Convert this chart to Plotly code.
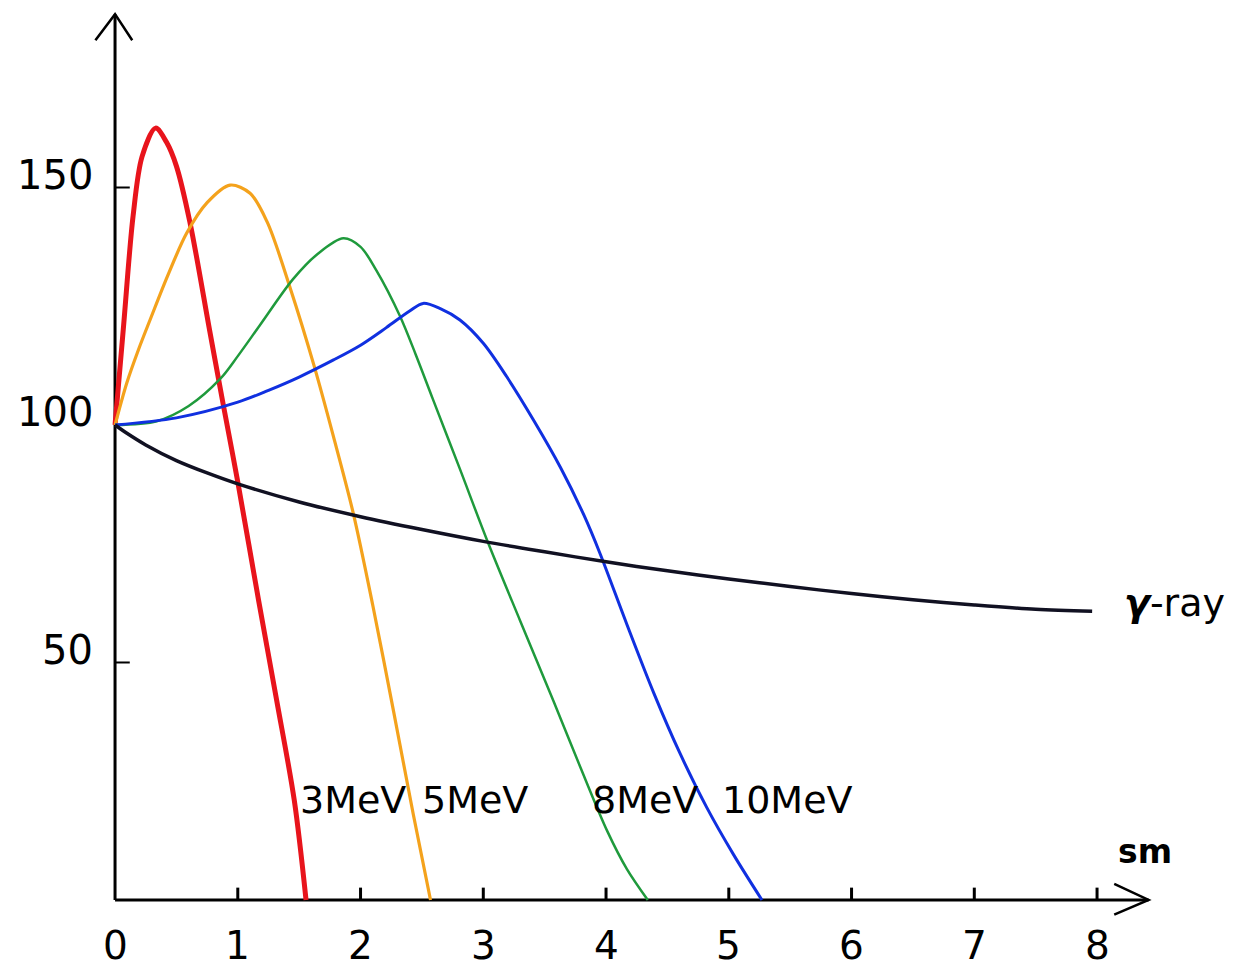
import plotly.graph_objects as go

# ---------------- data ----------------
x_3mev = [0, 0.07, 0.147, 0.22, 0.33, 0.42, 0.5, 0.61, 0.77, 0.88, 1.0, 1.17, 1.317, 1.46, 1.556]
y_3mev = [100, 121, 144, 156.5, 162.5, 159.5, 154.5, 142.7, 120, 104.5, 88, 63, 42, 21, 0]

x_5mev = [0, 0.095, 0.19, 0.285, 0.43, 0.584, 0.75, 0.937, 1.1, 1.24, 1.43, 1.62, 1.78, 1.94, 2.1, 2.27, 2.43, 2.57]
y_5mev = [100, 108.8, 115.8, 122.1, 131.5, 140.4, 146.8, 150.5, 148.8, 142.7, 128.6, 112.6, 97.5, 81.5, 62, 39.6, 18, 0]

x_8mev = [0, 0.34, 0.6, 0.86, 1.0, 1.18, 1.45, 1.65, 1.86, 2.0, 2.13, 2.32, 2.45, 2.59, 2.81, 3.03, 3.3, 3.57, 3.79, 4.01, 4.17, 4.34]
y_8mev = [100, 100.8, 104, 109.8, 114.5, 121, 130.7, 136, 139.3, 137.5, 132.5, 123, 114.8, 105.4, 90.7, 75.8, 58.8, 42, 28, 14.5, 6.5, 0]

x_10mev = [0, 0.5, 1.0, 1.25, 1.5, 1.78, 2.0, 2.21, 2.4, 2.51, 2.65, 2.81, 3.0, 3.19, 3.41, 3.63, 3.82, 3.95, 4.17, 4.39, 4.6, 4.82, 5.04, 5.27]
y_10mev = [100, 101.5, 104.8, 107.3, 110.1, 113.7, 116.8, 120.5, 124, 125.6, 124.5, 122.1, 117.2, 110.2, 101, 91, 81, 73, 58, 43.5, 31, 19.5, 9.5, 0]

x_gamma = [0, 0.1, 0.25, 0.5, 0.75, 1.0, 1.5, 2.0, 2.5, 3.0, 3.5, 4.0, 4.5, 5.0, 5.5, 6.0, 6.5, 7.0, 7.5, 7.96]
y_gamma = [100, 98.2, 95.8, 92.5, 89.9, 87.6, 83.8, 80.7, 78, 75.5, 73.3, 71.2, 69.3, 67.6, 66, 64.5, 63.2, 62.1, 61.2, 60.8]

x_tick_vals = [0, 1, 2, 3, 4, 5, 6, 7, 8]
x_tick_text = ["0", "1", "2", "3", "4", "5", "6", "7", "8"]
y_tick_vals = [50, 100, 150]
y_tick_text = ["50", "100", "150"]

curve_labels = ["3MeV", "5MeV", "8MeV", "10MeV"]
curve_label_x = [1.49, 2.485, 3.87, 4.93]

FONT = "DejaVu Sans, Liberation Sans, Arial, sans-serif"

fig = go.Figure()

series = [
    (x_3mev, y_3mev, "#e8141c", 5),
    (x_5mev, y_5mev, "#f4a21c", 3.2),
    (x_8mev, y_8mev, "#1f9a3c", 2.5),
    (x_10mev, y_10mev, "#1030e0", 3),
    (x_gamma, y_gamma, "#111122", 3.5),
]
for xs, ys, col, w in series:
    fig.add_trace(go.Scatter(x=xs, y=ys, mode="lines",
                             line=dict(color=col, width=w, shape="spline", smoothing=0.9),
                             hoverinfo="skip", showlegend=False))

shapes = []
axis_line = dict(color="black", width=3)
# axes
shapes.append(dict(type="line", xref="x", yref="y", x0=0, y0=0, x1=8.42, y1=0, line=axis_line, layer="below"))
shapes.append(dict(type="line", xref="x", yref="y", x0=0, y0=0, x1=0, y1=186.5, line=axis_line, layer="below"))
# arrow heads (open chevrons)
arrow_line = dict(color="black", width=2.5)
shapes.append(dict(type="path", xref="x", yref="y",
                   path="M -0.16,181 L 0,186.5 L 0.14,181", line=arrow_line))
shapes.append(dict(type="path", xref="x", yref="y",
                   path="M 8.14,3.4 L 8.42,0 L 8.14,-3.1", line=arrow_line))
# ticks
for v in x_tick_vals[1:]:
    shapes.append(dict(type="line", xref="x", yref="y", x0=v, y0=0, x1=v, y1=2.6,
                       line=dict(color="black", width=3), layer="below"))
for v in [50, 150]:
    shapes.append(dict(type="line", xref="x", yref="y", x0=0, y0=v, x1=0.12, y1=v,
                       line=dict(color="black", width=2), layer="below"))

annotations = []
for v, t in zip(x_tick_vals, x_tick_text):
    annotations.append(dict(x=v, y=-9.6, xref="x", yref="y", text=t, showarrow=False,
                            xanchor="center", yanchor="middle",
                            font=dict(family=FONT, size=39, color="black")))
for v, t in zip(y_tick_vals, y_tick_text):
    annotations.append(dict(x=-0.16, y=v + 2.7, xref="x", yref="y", text=t, showarrow=False,
                            xanchor="right", yanchor="middle",
                            font=dict(family=FONT, size=40, color="black")))
for t, xv in zip(curve_labels, curve_label_x):
    annotations.append(dict(x=xv, y=21, xref="x", yref="y", text=t, showarrow=False,
                            xanchor="left", yanchor="middle",
                            font=dict(family=FONT, size=38, color="black")))
annotations.append(dict(x=8.39, y=10.3, xref="x", yref="y", text="<b>sm</b>", showarrow=False,
                        xanchor="center", yanchor="middle",
                        font=dict(family=FONT, size=33, color="black")))
annotations.append(dict(x=8.2, y=62.5, xref="x", yref="y", text="<b><i>γ</i></b>-ray", showarrow=False,
                        xanchor="left", yanchor="middle",
                        font=dict(family=FONT, size=38, color="black")))

# page has an 8px body margin: figure is offset by 8px, so size/ranges compensate
fig.update_layout(
    width=1235, height=960,
    margin=dict(l=0, r=0, t=0, b=0),
    paper_bgcolor="white", plot_bgcolor="white",
    xaxis=dict(range=[-0.872, 9.189], visible=False, fixedrange=True),
    yaxis=dict(range=[-14.32, 187.79], visible=False, fixedrange=True),
    shapes=shapes, annotations=annotations,
    showlegend=False,
)

fig.write_html("out.html")
